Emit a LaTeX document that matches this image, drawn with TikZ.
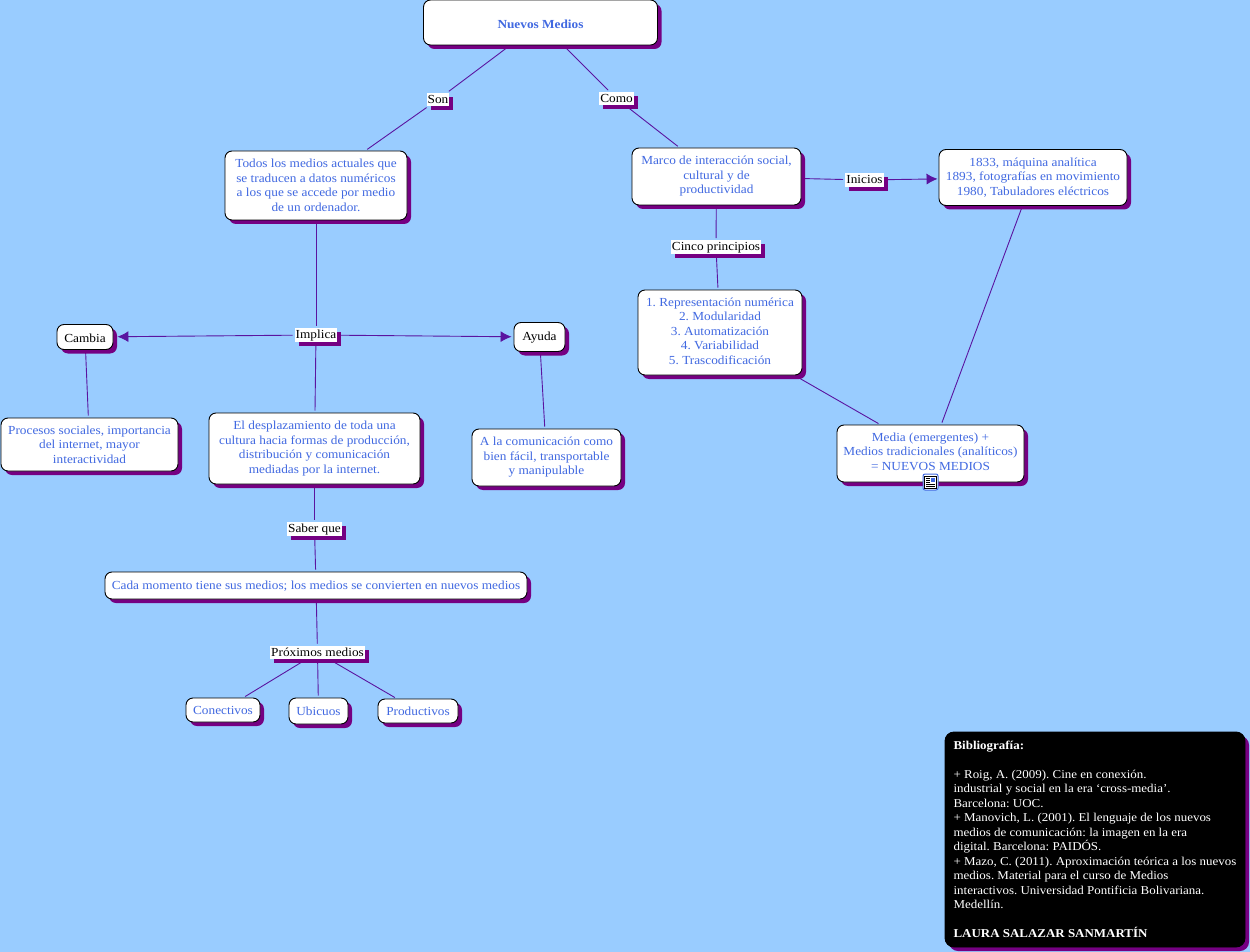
\documentclass[tikz,border=0pt]{standalone}
\usepackage{fontspec}
\setmainfont[FakeStretch=1.08]{Liberation Serif}
\usetikzlibrary{shadows,backgrounds,arrows.meta}
\definecolor{bgblue}{HTML}{99CCFF}
\definecolor{shadowpurple}{HTML}{750082}
\definecolor{linepurple}{HTML}{5A14A0}
\definecolor{textblue}{HTML}{4169E1}
\newcommand{\lowerdepth}[1]{\rule[-#1pt]{0pt}{#1pt}}
\tikzset{
  x=1pt,y=-1pt,
  concept/.style={draw=black,line width=0.9pt,fill=white,rounded corners=7pt,inner sep=0pt,align=center,
    text=textblue,font=\fontsize{12.3}{14.5}\selectfont\frenchspacing,
    general shadow={fill=shadowpurple,shadow xshift=4pt,shadow yshift=-4pt}},
  linkword/.style={fill=white,inner xsep=1pt,inner ysep=0pt,text=black,font=\fontsize{12.3}{14.5}\selectfont,
    text height=10.5pt,text depth=3pt,general shadow={fill=shadowpurple,shadow xshift=4pt,shadow yshift=-4pt}},
  blackc/.style={concept,text=black},
  link/.style={draw=linepurple,line width=0.9pt,shorten >=2pt,shorten <=2pt},
  arrowlink/.style={link,-{Latex[length=11pt,width=11pt]}},
  biblio/.style={concept,draw=black,fill=black,text=white,align=left,rounded corners=9pt,font=\fontsize{12}{14.5}\selectfont\frenchspacing},
}
\begin{document}
\begin{tikzpicture}
\useasboundingbox (0,0) rectangle (1250,952);
\node[concept,minimum width=234pt,minimum height=45pt,text height=15pt,text depth=3pt,font=\fontsize{12.3}{14.5}\selectfont\bfseries] (top) at (540.5,22.5) {Nuevos Medios};
\node[concept,minimum width=182pt,minimum height=69pt] (todos) at (316,185.5) {Todos los medios actuales que\\se traducen a datos numéricos\\a los que se accede por medio\\de un ordenador.};
\node[concept,minimum width=169pt,minimum height=57pt] (marco) at (716.5,176.5) {Marco de interacción social,\\cultural y de\\productividad};
\node[concept,minimum width=188pt,minimum height=56pt] (hist) at (1033,177.5) {1833, máquina analítica\\1893, fotografías en movimiento\\1980, Tabuladores eléctricos};
\node[concept,minimum width=164pt,minimum height=85pt] (cinco) at (720,332.5) {1. Representación numérica\\2. Modularidad\\3. Automatización\\4. Variabilidad\\5. Trascodificación\lowerdepth{3.5}};
\node[concept,minimum width=187pt,minimum height=57pt] (media) at (930.5,453.5) {Media (emergentes) +\\Medios tradicionales (analíticos)\\= NUEVOS MEDIOS\lowerdepth{4}};
\node[blackc,minimum width=56pt,minimum height=25pt,text height=14.5pt,text depth=3pt] (cambia) at (85,337) {Cambia};
\node[blackc,minimum width=51pt,minimum height=29pt,text height=10pt,text depth=3pt] (ayuda) at (539.5,337) {Ayuda};
\node[concept,minimum width=177pt,minimum height=53pt] (procesos) at (89.5,444.5) {Procesos sociales, importancia\\del internet, mayor\\interactividad};
\node[concept,minimum width=211pt,minimum height=71pt] (despl) at (314.5,448.5) {El desplazamiento de toda una\\cultura hacia formas de producción,\\distribución y comunicación\\mediadas por la internet.};
\node[concept,minimum width=149pt,minimum height=57pt] (comu) at (546.5,457.5) {A la comunicación como\\bien fácil, transportable\\y manipulable};
\node[concept,minimum width=422pt,minimum height=27pt,text height=11pt,text depth=3pt] (cada) at (316,585.5) {Cada momento tiene sus medios; los medios se convierten en nuevos medios};
\node[concept,minimum width=74pt,minimum height=24pt,text height=12pt,text depth=3pt] (conec) at (223,710) {Conectivos};
\node[concept,minimum width=59pt,minimum height=26pt,text height=12pt,text depth=3pt] (ubic) at (318.5,711) {Ubicuos};
\node[concept,minimum width=80pt,minimum height=24pt,text height=12pt,text depth=3pt] (prod) at (418,711) {Productivos};
\node[biblio,minimum width=300pt,minimum height=215pt] (bib) at (1095,839.5) {\textbf{Bibliografía:}\\[14.5pt]+ Roig, A. (2009). Cine en conexión.\\industrial y social en la era ‘cross-media’.\\Barcelona: UOC.\\+ Manovich, L. (2001). El lenguaje de los nuevos\\medios de comunicación: la imagen en la era\\digital. Barcelona: PAIDÓS.\\+ Mazo, C. (2011). Aproximación teórica a los nuevos\\medios. Material para el curso de Medios\\interactivos. Universidad Pontificia Bolivariana.\\Medellín.\\[14.5pt]\textbf{LAURA SALAZAR SANMARTÍN}};
\node[linkword] (son) at (438,99.5) {Son};
\node[linkword] (como) at (616.5,98.5) {Como};
\node[linkword] (impl) at (316,335) {Implica};
\node[linkword] (inic) at (864.5,180) {Inicios};
\node[linkword] (princ) at (716,247) {Cinco principios};
\node[linkword] (saber) at (314.5,529) {Saber que};
\node[linkword] (prox) at (317.5,652.5) {Próximos medios};
% resource icon
\node[draw=textblue,fill=white,line width=1pt,rounded corners=2pt,minimum width=15pt,minimum height=16pt,inner sep=0pt] (icon) at (930.5,482) {};
\draw[black,fill=white,line width=0.7pt] (924.5,476) rectangle (936.5,488);
\fill[textblue] (931,477.5) rectangle (935,481.5);
\foreach \yy in {478,480,482}{\draw[black,line width=0.6pt] (926,\yy) -- (930,\yy);}
\foreach \yy in {484,486}{\draw[black,line width=0.6pt] (926,\yy) -- (935,\yy);}
\begin{scope}[on background layer]
\fill[bgblue] (0,0) rectangle (1250,952);
\draw[link] (top) -- (son);
\draw[link] (son) -- (todos);
\draw[link] (top) -- (como);
\draw[link] (como) -- (marco);
\draw[link] (marco) -- (inic);
\draw[arrowlink,shorten >=1pt] (inic) -- (hist);
\draw[link] (marco) -- (princ);
\draw[link] (princ) -- (cinco);
\draw[link] (cinco) -- (media);
\draw[link] (hist) -- (media);
\draw[link] (todos) -- (impl);
\draw[arrowlink,shorten >=4pt] (impl) -- (cambia);
\draw[arrowlink,shorten >=2pt] (impl) -- (ayuda);
\draw[link] (impl) -- (despl);
\draw[link] (cambia) -- (procesos);
\draw[link] (ayuda) -- (comu);
\draw[link] (despl) -- (saber);
\draw[link] (saber) -- (cada);
\draw[link] (cada) -- (prox);
\draw[link] (prox) -- (conec);
\draw[link] (prox) -- (ubic);
\draw[link] (prox) -- (prod);
\end{scope}
\end{tikzpicture}
\end{document}
